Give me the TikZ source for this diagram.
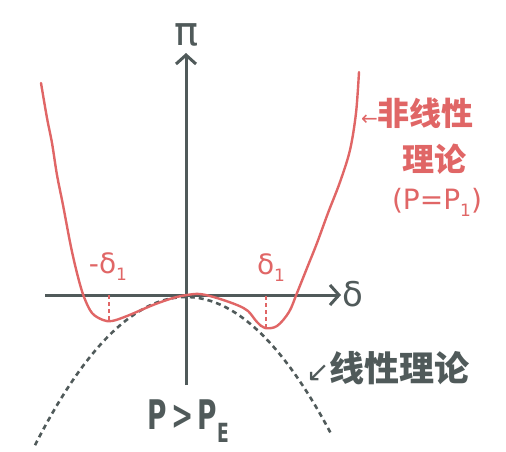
\documentclass[tikz,border=0pt]{standalone}
\usepackage{fontspec}
\usepackage{graphicx}
\setmainfont{DejaVu Sans}
\newfontfamily\cjk{Noto Sans CJK SC}
\newfontfamily\dejavu{DejaVu Sans}
\usetikzlibrary{arrows.meta}
\definecolor{axisgray}{RGB}{80,90,90}
\definecolor{curvered}{RGB}{224,102,102}
\newcommand{\subone}{\raisebox{-0.25em}{\fontsize{17}{17}\selectfont 1}}
\tikzset{
  axisline/.style={draw=axisgray, line width=3pt, -{Straight Barb[length=9pt,width=20pt,line width=3pt]}},
  redcurve/.style={draw=curvered, line width=2.4pt, line cap=round, line join=round},
  linearcurve/.style={draw=axisgray, line width=2.6pt, dash pattern=on 5pt off 4pt},
  reddrop/.style={draw=curvered, line width=2pt, dash pattern=on 4pt off 3pt},
  redlabel/.style={text=curvered, inner sep=0pt},
  graylabel/.style={text=axisgray, inner sep=0pt}
}
\begin{document}
\begin{tikzpicture}[x=1pt,y=-1pt]
\useasboundingbox (0,0) rectangle (506,451);
% axes
\coordinate (xs) at (45,295);
\coordinate (xe) at (341,295);
\coordinate (ys) at (186,385);
\coordinate (ye) at (186,53);
\draw[axisline] (xs) -- (xe);
\draw[axisline] (ys) -- (ye);
\node[graylabel, font=\dejavu\fontsize{40}{40}\selectfont] (pi) at (187,35) {π};
\node[graylabel, font=\dejavu\fontsize{34}{34}\selectfont] (delta) at (353,294) {δ};
% linear (dashed) curve
\draw[linearcurve] plot[domain=35:331, samples=60, smooth] (\x, {297+0.0065*(\x-186)*(\x-186)});
% nonlinear curve
\draw[redcurve] plot[smooth, tension=0.55] coordinates {
 (41,83) (47,118) (52,143) (57,175) (63,205) (71,247) (78,277) (84,297)
 (92,313) (103,320) (112,321) (127,316) (153,305) (173,298) (187,295)
 (200,294) (217,298) (237,305) (248,311) (257,322) (265,328) (277,326)
 (289,312) (297,293) (307,268) (317,243) (328,213) (340,182) (350,150)
 (356,113) (359,72)};
% drop lines
\coordinate (l1) at (109,295); \coordinate (l2) at (109,320);
\coordinate (r1) at (266,296); \coordinate (r2) at (266,328);
\draw[reddrop] (l1) -- (l2);
\draw[reddrop] (r1) -- (r2);
\node[redlabel, font=\dejavu\fontsize{28}{28}\selectfont] (md) at (108,267) {-δ\subone};
\node[redlabel, font=\dejavu\fontsize{28}{28}\selectfont] (pd) at (271,268) {δ\subone};
% red annotation
\node[redlabel, anchor=west] (nl1) at (361,113) {{\dejavu\fontsize{20}{20}\selectfont ←}{\cjk\bfseries\fontsize{32}{32}\selectfont 非线性}};
\node[redlabel] (nl2) at (434,159) {\cjk\bfseries\fontsize{32}{32}\selectfont 理论};
\node[redlabel] (nl3) at (437,202) {\fontsize{28}{28}\selectfont (P=P\subone)};
% black annotation
\node[graylabel, anchor=west] (ll) at (306,368) {{\dejavu\fontsize{28}{28}\selectfont ↙}{\cjk\bfseries\fontsize{35}{35}\selectfont 线性理论}};
\node[graylabel] (cond) at (188,421) {\scalebox{0.78}[1.2]{\bfseries\fontsize{34}{34}\selectfont P\,>\,P\raisebox{-0.3em}{\fontsize{22}{22}\selectfont E}}};
\end{tikzpicture}
\end{document}
